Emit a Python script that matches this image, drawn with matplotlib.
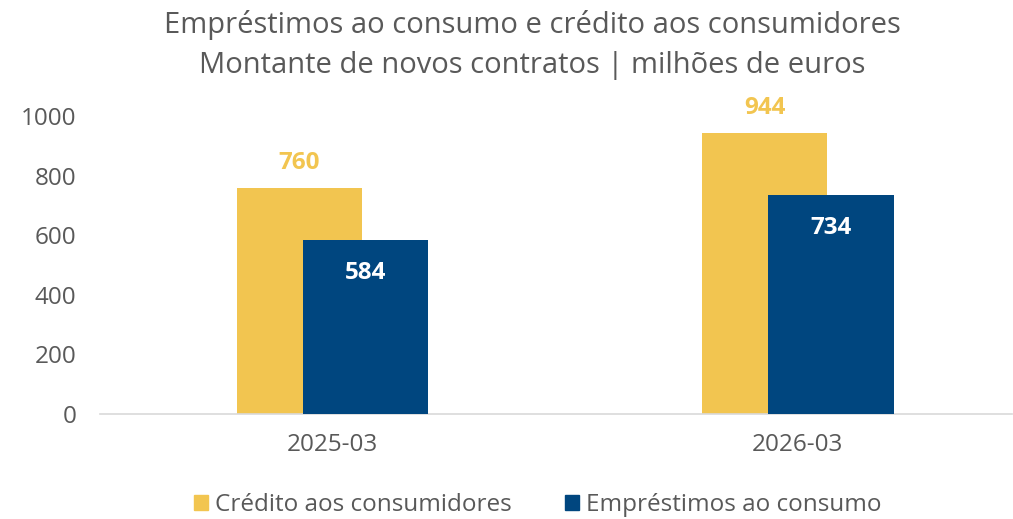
import matplotlib
matplotlib.use('Agg')
import matplotlib.pyplot as plt
import numpy as np
from matplotlib.patches import Patch

plt.rcParams['font.family'] = ['Open Sans', 'DejaVu Sans']

# data
categories = ['2025-03', '2026-03']
credito = [760, 944]
emprestimos = [584, 734]
series_names = ['Crédito aos consumidores', 'Empréstimos ao consumo']

yellow = '#F2C550'
blue = '#00467F'
gray = '#595959'

fig = plt.figure(figsize=(10.13, 5.19), dpi=100)
ax = fig.add_axes([100 / 1013, (519 - 414) / 519, 912 / 1013, 298 / 519])

x = np.arange(len(categories))
w = 0.269
off = 0.071
ax.bar(x - off, credito, width=w, color=yellow, zorder=2)
ax.bar(x + off, emprestimos, width=w, color=blue, zorder=3)

# value labels: above the yellow bars, inside the blue ones
for xi, v in zip(x, credito):
    ax.annotate(str(v), (xi - off, v), xytext=(0, 17.5), textcoords='offset points',
                ha='center', va='center', fontsize=17.5, fontweight='bold', color=yellow)
for xi, v in zip(x, emprestimos):
    ax.annotate(str(v), (xi + off, v), xytext=(0, -23.5), textcoords='offset points',
                ha='center', va='center', fontsize=17.5, fontweight='bold', color='white', zorder=4)

ax.set_xlim(-0.4995, 1.46)
ax.set_ylim(0, 1000)
ax.set_yticks(range(0, 1001, 200))
ax.set_xticks(x)
ax.set_xticklabels(categories)
ax.tick_params(axis='both', length=0, labelsize=17.5, colors=gray)
ax.tick_params(axis='x', pad=14)
ax.tick_params(axis='y', pad=17)
for s in ['top', 'right', 'left']:
    ax.spines[s].set_visible(False)
ax.spines['bottom'].set_color('#D9D9D9')
ax.spines['bottom'].set_linewidth(1.2)

fig.text(532 / 1013, 1 - 25 / 519, 'Empréstimos ao consumo e crédito aos consumidores',
         ha='center', va='center', fontsize=21, color=gray)
fig.text(532 / 1013, 1 - 66 / 519, 'Montante de novos contratos | milhões de euros',
         ha='center', va='center', fontsize=21, color=gray)

handles = [Patch(color=yellow), Patch(color=blue)]
fig.legend(handles, series_names, loc='center', bbox_to_anchor=(538 / 1013, 1 - 505 / 519),
           ncol=2, frameon=False, fontsize=17.5, handlelength=0.55, handleheight=0.55,
           handletextpad=0.3, columnspacing=2.2, labelcolor=gray, borderpad=0)

fig.savefig('out.png', dpi=100)
